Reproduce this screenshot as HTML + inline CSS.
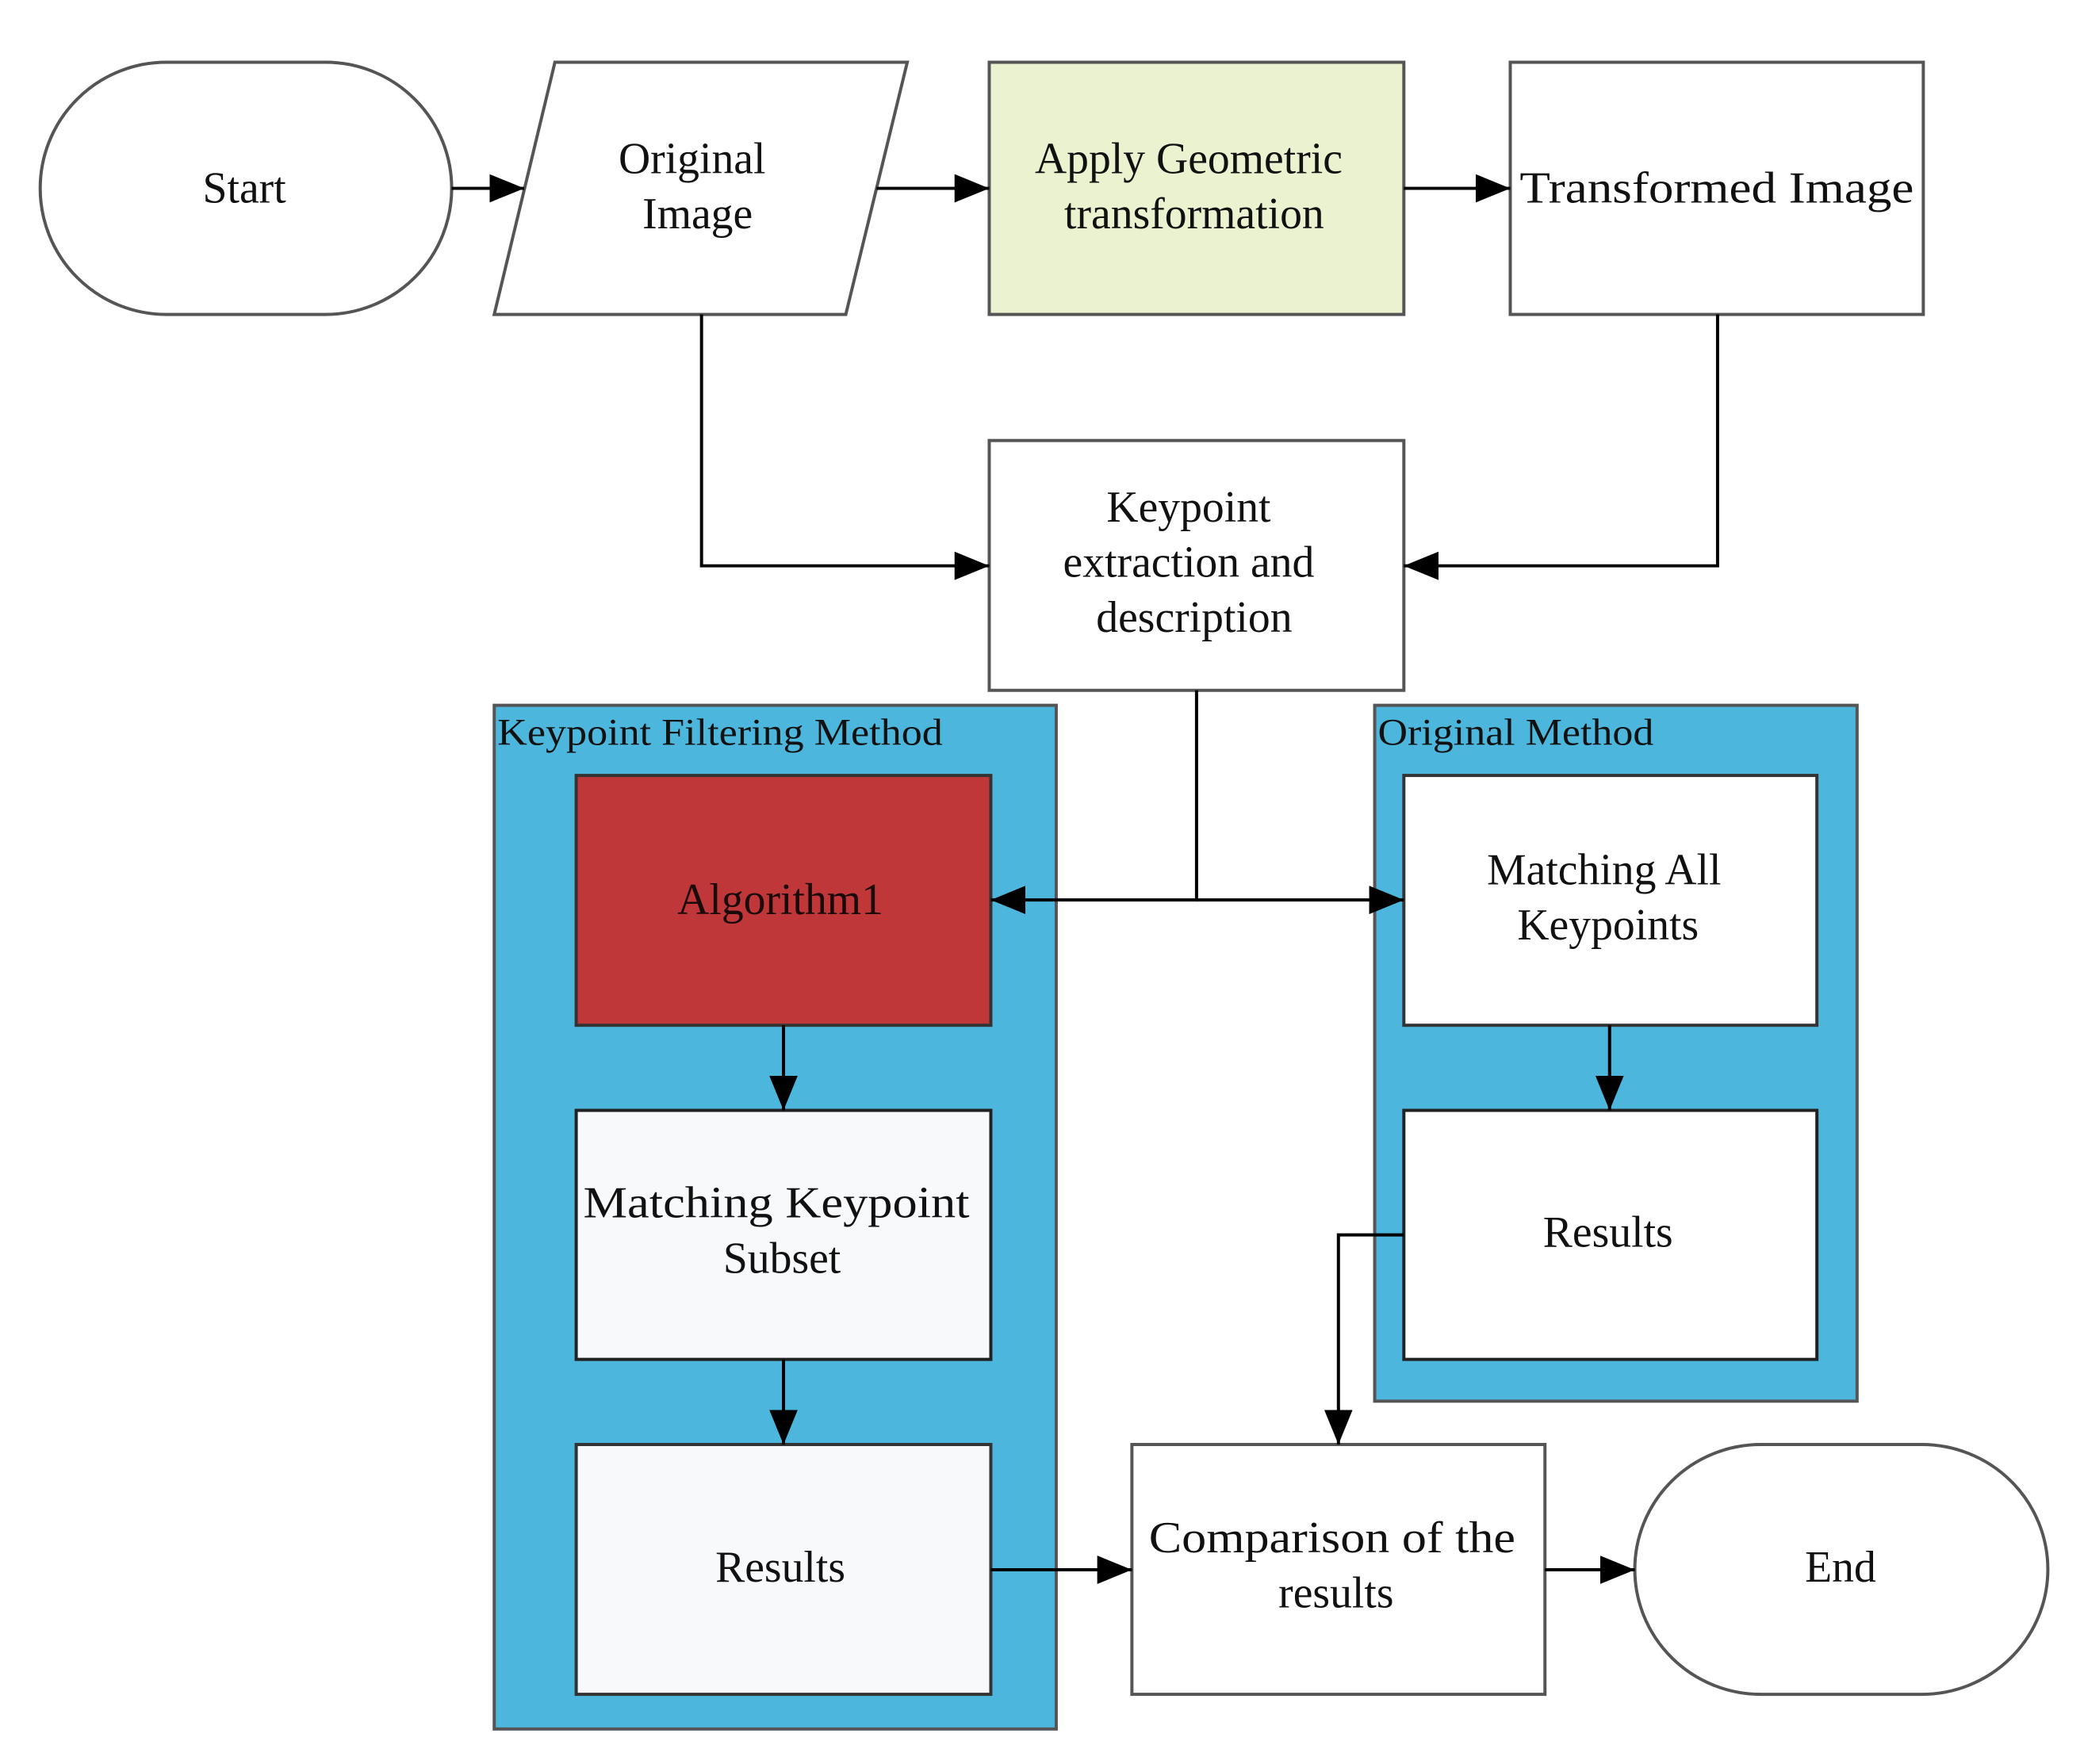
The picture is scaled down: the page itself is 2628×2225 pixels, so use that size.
<!DOCTYPE html>
<html><head><meta charset="utf-8"><style>html,body{margin:0;padding:0;background:#fff}svg{display:block}</style></head>
<body>
<svg width="2628" height="2225" viewBox="0 0 2628 2225" xmlns="http://www.w3.org/2000/svg" font-family="'Liberation Serif', serif" font-size="56" text-anchor="middle">
<defs>
<marker id="b" markerWidth="44" markerHeight="36" refX="44" refY="18" orient="auto" markerUnits="userSpaceOnUse"><path d="M0,0 L44,18 L0,36z" fill="#000"/></marker></defs>
<g transform="scale(0.994)">
<g stroke="#555" stroke-width="4">
<rect x="51" y="79" width="522" height="320" rx="160" fill="#fff"/>
<polygon points="704,79 1151,79 1073,399 627,399" fill="#fff"/>
<rect x="1255" y="79" width="526" height="320" fill="#ebf2d0"/>
<rect x="1916" y="79" width="524" height="320" fill="#fff"/>
<rect x="1255" y="559" width="526" height="317" fill="#fff"/>
<rect x="627" y="895" width="713" height="1299" fill="#4db6dc"/>
<rect x="1744" y="895" width="612" height="883" fill="#4db6dc"/>
<rect x="731" y="984" width="526" height="317" fill="#c0373a" stroke="#333"/>
<rect x="731" y="1409" width="526" height="316" fill="#f8f9fb" stroke="#222"/>
<rect x="731" y="1833" width="526" height="317" fill="#f8f9fb" stroke="#333"/>
<rect x="1781" y="984" width="524" height="317" fill="#fff" stroke="#333"/>
<rect x="1781" y="1409" width="524" height="316" fill="#fff" stroke="#222"/>
<rect x="1436" y="1833" width="524" height="317" fill="#fff"/>
<rect x="2074" y="1833" width="524" height="317" rx="160" fill="#fff"/>
</g>
<g stroke="#000" stroke-width="4" fill="none" marker-end="url(#b)">
<line x1="573" y1="239" x2="665" y2="239"/>
<line x1="1112" y1="239" x2="1255" y2="239"/>
<line x1="1781" y1="239" x2="1916" y2="239"/>
<polyline points="890,399 890,718 1255,718"/>
<polyline points="2179,399 2179,718 1781,718"/>
<polyline points="1518,876 1518,1142 1257,1142"/>
<polyline points="1518,1142 1781,1142"/>
<line x1="994" y1="1301" x2="994" y2="1409"/>
<line x1="994" y1="1725" x2="994" y2="1833"/>
<line x1="2042" y1="1301" x2="2042" y2="1409"/>
<polyline points="1781,1567 1698,1567 1698,1833"/>
<line x1="1257" y1="1992" x2="1436" y2="1992"/>
<line x1="1960" y1="1992" x2="2074" y2="1992"/>
</g>
<g fill="#111">
<text x="310" y="257">Start</text>
<text x="878" y="220">Original</text><text x="885" y="290">Image</text>
<text x="1508" y="220">Apply Geometric</text><text x="1515" y="290">transformation</text>
<text x="2178" y="257" textLength="500" lengthAdjust="spacingAndGlyphs">Transformed Image</text>
<text x="1508" y="662">Keypoint</text><text x="1508" y="732">extraction and</text><text x="1515" y="802">description</text>
<text x="990" y="1160" fill="#1a0a0a">Algorithm1</text>
<text x="2035" y="1122">Matching All</text><text x="2040" y="1192">Keypoints</text>
<text x="985" y="1545" textLength="490" lengthAdjust="spacingAndGlyphs">Matching Keypoint</text><text x="992" y="1615">Subset</text>
<text x="2040" y="1582">Results</text>
<text x="990" y="2007">Results</text>
<text x="1690" y="1970" textLength="465" lengthAdjust="spacingAndGlyphs">Comparison of the</text><text x="1695" y="2040">results</text>
<text x="2335" y="2007">End</text>
<text x="631" y="945" font-size="48" text-anchor="start" textLength="565" lengthAdjust="spacingAndGlyphs">Keypoint Filtering Method</text>
<text x="1748" y="945" font-size="48" text-anchor="start" textLength="350" lengthAdjust="spacingAndGlyphs">Original Method</text>
</g>
</g>
</svg>
</body></html>
